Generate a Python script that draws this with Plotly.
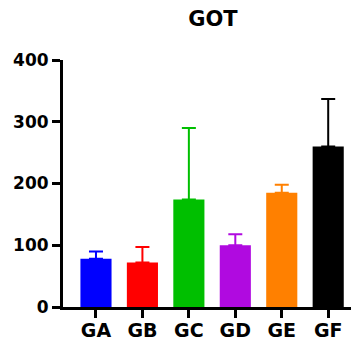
import plotly.graph_objects as go

categories = ["GA", "GB", "GC", "GD", "GE", "GF"]
means = [78, 72, 174, 100, 185, 260]
errors_plus = [12, 25, 116, 18, 13, 77]
colors = ["#0000FF", "#FF0000", "#00BF00", "#B00AE0", "#FF8000", "#000000"]
y_ticks = [0, 100, 200, 300, 400]

fig = go.Figure()
for c, m, e, col in zip(categories, means, errors_plus, colors):
    fig.add_trace(go.Bar(
        x=[c], y=[m], width=0.67,
        marker=dict(color=col, line=dict(width=0)),
        error_y=dict(type="data", array=[e], arrayminus=[0], symmetric=False,
                     color=col, thickness=2, width=7),
        showlegend=False,
    ))

fam = "DejaVu Sans"
fig.update_layout(
    width=351, height=336,
    margin=dict(l=55, r=2, t=52, b=37, autoexpand=False),
    paper_bgcolor="white", plot_bgcolor="white",
    title=dict(text="GOT", x=0.584, xanchor="center", y=0.969, yanchor="middle",
               font=dict(family=fam, size=21, color="black", weight="bold")),
    xaxis=dict(categoryorder="array", categoryarray=categories,
               range=[-0.71, 5.62], showline=True, linecolor="black", linewidth=3,
               ticks="outside", ticklen=8, tickwidth=3, tickcolor="black",
               tickfont=dict(family=fam, size=19, color="black", weight="bold"),
               ticklabelstandoff=-4,
               showgrid=False, automargin=False),
    yaxis=dict(range=[0, 400], tickvals=y_ticks, showline=True, linecolor="black", linewidth=3,
               ticks="outside", ticklen=8, tickwidth=3, tickcolor="black",
               tickfont=dict(family=fam, size=17, color="black", weight="bold"),
               showgrid=False, zeroline=False, automargin=False),
)
fig.write_html("out.html")
